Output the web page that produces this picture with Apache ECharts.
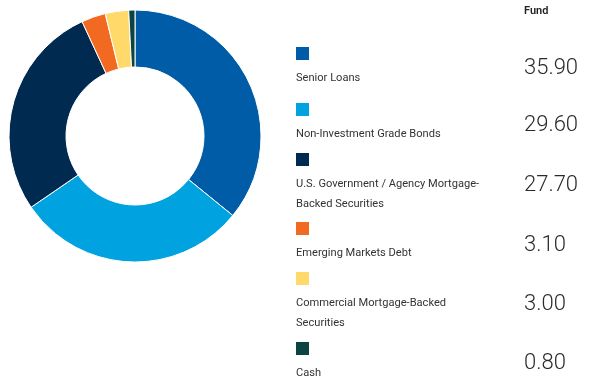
<!DOCTYPE html>
<html>
<head>
<meta charset="utf-8">
<script src="https://cdn.jsdelivr.net/npm/echarts@6/dist/echarts.min.js"></script>
<style>
  html, body { margin: 0; padding: 0; background: #fff; }
  #chart { width: 600px; height: 388px; }
</style>
</head>
<body>
<div id="chart"></div>
<script>
var categories = ['Senior Loans', 'Non-Investment Grade Bonds', 'U.S. Government / Agency Mortgage-Backed Securities',
  'Emerging Markets Debt', 'Commercial Mortgage-Backed Securities', 'Cash'];
var legendLabels = ['Senior Loans', 'Non-Investment Grade Bonds', 'U.S. Government / Agency Mortgage-\nBacked Securities',
  'Emerging Markets Debt', 'Commercial Mortgage-Backed\nSecurities', 'Cash'];
var fundValues = [35.90, 29.60, 27.70, 3.10, 3.00, 0.80];
var colors = ['#005ca6', '#00a3e0', '#002a4f', '#f26a21', '#ffda6a', '#0b4440'];
var columnTitle = 'Fund';

// legend row layout (top of the swatch, centre of the value)
var rowTops = [47, 103, 153, 222, 272, 342];
var valueMids = [68, 125, 185, 245, 304, 363];

function init() {
  var chart = echarts.init(document.getElementById('chart'));

  var graphics = [{
    type: 'text',
    style: { text: columnTitle, x: 524, y: 11, verticalAlign: 'middle',
      font: '600 11px Roboto', fill: '#222' }
  }];
  categories.forEach(function (name, i) {
    graphics.push({
      type: 'rect',
      shape: { x: 296, y: rowTops[i], width: 13, height: 13 },
      style: { fill: colors[i] }
    });
    graphics.push({
      type: 'text',
      style: { text: legendLabels[i], x: 296, y: rowTops[i] + 21, lineHeight: 20,
        verticalAlign: 'top', font: '11.1px Roboto', fill: '#333' }
    });
    graphics.push({
      type: 'text',
      style: { text: fundValues[i].toFixed(2), x: 524, y: valueMids[i], verticalAlign: 'middle',
        font: '300 22px Roboto', fill: '#2a2a2a' }
    });
  });

  var option = {
    animation: false,
    color: colors,
    series: [{
      type: 'pie',
      center: [135, 136],
      radius: [69, 126],
      startAngle: 90,
      clockwise: true,
      label: { show: false },
      labelLine: { show: false },
      itemStyle: { borderColor: '#fff', borderWidth: 1 },
      data: categories.map(function (name, i) {
        return { name: name, value: fundValues[i] };
      })
    }],
    graphic: graphics
  };
  chart.setOption(option);

  window.onresize = function () {
    chart.resize();
  };
}
init();
</script>
</body>
</html>
